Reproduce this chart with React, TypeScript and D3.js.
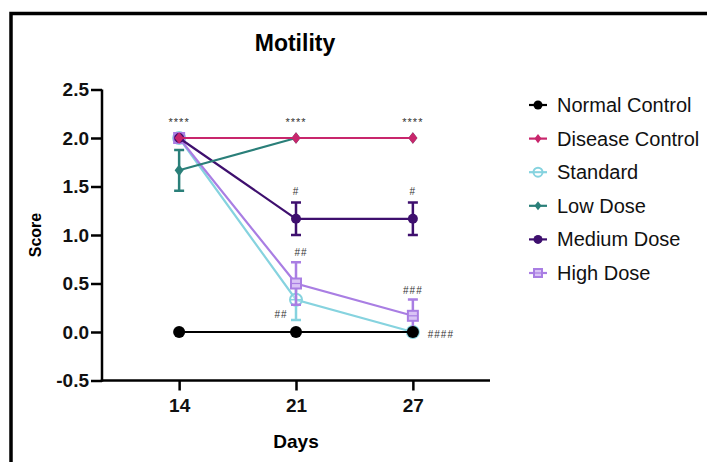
import React, { useEffect, useRef } from "react";
import * as d3 from "d3";

const days = ["14", "21", "27"];
const yTicks = [-0.5, 0.0, 0.5, 1.0, 1.5, 2.0, 2.5];

const groups = ["Normal Control", "Disease Control", "Standard", "Low Dose", "Medium Dose", "High Dose"];
const normalControl = [0, 0, 0];
const diseaseControl = [2, 2, 2];
const standard = [2, 0.333, 0];
const lowDose = [1.667, 2, 2];
const mediumDose = [2, 1.167, 1.167];
const highDose = [2, 0.5, 0.167];

const standardErr = [0, 0.21, 0];
const lowDoseErr = [0.21, 0, 0];
const mediumDoseErr = [0, 0.167, 0.167];
const highDoseErr = [0, 0.22, 0.167];

// significance marks: [day, value the mark sits near, text, dx, dy]
const marks: [string, number, string, number, number][] = [
  ["14", 2, "****", 0, -16],
  ["21", 2, "****", 0, -16],
  ["27", 2, "****", 0, -16],
  ["21", 1.333, "#", 0, -12],
  ["27", 1.333, "#", 0, -12],
  ["21", 0.72, "##", 5, -10],
  ["21", 0.333, "##", -15, 14],
  ["27", 0.334, "###", 0, -10],
  ["27", 0, "####", 28, 2],
];

const App = () => {
  const ref = useRef<SVGSVGElement>(null);

  useEffect(() => {
    const svg = d3.select(ref.current);
    svg.selectAll("*").remove();

    const width = 707, height = 462;
    const font = "'Liberation Sans', Arial, sans-serif";

    const x = d3.scalePoint().domain(days).range([102, 490]).padding(0.66);
    const y = d3.scaleLinear().domain([-0.5, 2.5]).range([380.5, 89.5]);

    svg.append("rect").attr("width", width).attr("height", height).attr("fill", "#fff");

    // frame (only top and left edges show)
    svg.append("path")
      .attr("d", "M11,462 V13.5 H707")
      .attr("fill", "none")
      .attr("stroke", "#000")
      .attr("stroke-width", 3.5);

    svg.append("text")
      .attr("x", 295).attr("y", 51)
      .attr("text-anchor", "middle")
      .attr("font-family", font).attr("font-weight", "bold").attr("font-size", 23)
      .text("Motility");

    // axes
    const yAxis = svg.append("g").attr("transform", "translate(102,0)")
      .call(d3.axisLeft(y).tickValues(yTicks).tickFormat(d => (+d).toFixed(1)).tickSize(11).tickPadding(2));
    const xAxis = svg.append("g").attr("transform", `translate(0,${y(-0.5)})`)
      .call(d3.axisBottom(x).tickSize(10).tickPadding(8).tickSizeOuter(0));
    [yAxis, xAxis].forEach(a => {
      a.select(".domain").attr("stroke-width", 2.5);
      a.selectAll(".tick line").attr("stroke-width", 2.5);
      a.selectAll("text").attr("font-family", font).attr("font-weight", "bold").attr("font-size", 19).attr("fill", "#111");
    });
    yAxis.select(".domain").attr("d", `M0,${y(2.5)}V${y(-0.5) + 1.2}`);
    xAxis.select(".domain").attr("d", `M100.8,0H490`);

    svg.append("text")
      .attr("transform", `translate(41,${(y(2.5) + y(-0.5)) / 2}) rotate(-90)`)
      .attr("text-anchor", "middle")
      .attr("font-family", font).attr("font-weight", "bold").attr("font-size", 16)
      .text("Score");
    svg.append("text")
      .attr("x", x("21")).attr("y", 448)
      .attr("text-anchor", "middle")
      .attr("font-family", font).attr("font-weight", "bold").attr("font-size", 19)
      .text("Days");

    const series = [
      { name: groups[0], values: normalControl, err: [0, 0, 0], color: "#000000", shape: "circle", open: false, r: 6 },
      { name: groups[1], values: diseaseControl, err: [0, 0, 0], color: "#c8266c", shape: "diamond", open: false, r: 4.5 },
      { name: groups[2], values: standard, err: standardErr, color: "#86d3df", shape: "circle", open: true, r: 6 },
      { name: groups[3], values: lowDose, err: lowDoseErr, color: "#2a7f79", shape: "diamond", open: false, r: 4.5 },
      { name: groups[4], values: mediumDose, err: mediumDoseErr, color: "#3e0f6e", shape: "circle", open: false, r: 5 },
      { name: groups[5], values: highDose, err: highDoseErr, color: "#a97ee3", shape: "square", open: true, r: 5 },
    ];
    // drawing order: pale groups first, controls on top
    const drawOrder = [2, 5, 4, 3, 1, 0];

    const line = d3.line<number>().x((_, i) => x(days[i])!).y(d => y(d));

    const drawMarker = (g: any, s: any, cx: number, cy: number) => {
      if (s.shape === "circle") {
        g.append("circle").attr("cx", cx).attr("cy", cy).attr("r", s.r)
          .attr("fill", s.open ? "rgba(255,255,255,0.3)" : s.color)
          .attr("stroke", s.color).attr("stroke-width", s.open ? 2 : 0);
        if (s.open) {
          g.append("line").attr("x1", cx - s.r).attr("x2", cx + s.r).attr("y1", cy).attr("y2", cy)
            .attr("stroke", s.color).attr("stroke-width", 1.5);
        }
      } else if (s.shape === "square") {
        g.append("rect").attr("x", cx - s.r).attr("y", cy - s.r).attr("width", s.r * 2).attr("height", s.r * 2)
          .attr("fill", "#d9c4f5").attr("stroke", s.color).attr("stroke-width", 2);
        g.append("line").attr("x1", cx - s.r).attr("x2", cx + s.r).attr("y1", cy).attr("y2", cy)
          .attr("stroke", s.color).attr("stroke-width", 1.2);
      } else {
        g.append("path").attr("d", `M${cx},${cy - s.r * 1.3}L${cx + s.r},${cy}L${cx},${cy + s.r * 1.3}L${cx - s.r},${cy}Z`)
          .attr("fill", s.color);
      }
    };

    drawOrder.forEach(si => {
      const s = series[si];
      const g = svg.append("g");
      g.append("path").datum(s.values).attr("d", line)
        .attr("fill", "none").attr("stroke", s.color).attr("stroke-width", 2.2);
      s.values.forEach((v, i) => {
        const e = s.err[i];
        if (!e) return;
        const cx = x(days[i])!;
        g.append("path")
          .attr("d", `M${cx},${y(v - e)}V${y(v + e)}M${cx - 5},${y(v + e)}H${cx + 5}M${cx - 5},${y(v - e)}H${cx + 5}`)
          .attr("fill", "none").attr("stroke", s.color).attr("stroke-width", 2.5);
      });
      s.values.forEach((v, i) => drawMarker(g, s, x(days[i])!, y(v)));
    });

    // significance marks
    marks.forEach(([d, v, t, dx, dy]) => {
      svg.append("text")
        .attr("x", x(d)! + dx).attr("y", y(v) + dy + 4)
        .attr("text-anchor", "middle")
        .attr("font-family", font).attr("font-size", t.startsWith("*") ? 11 : 10)
        .attr("letter-spacing", 1)
        .attr("fill", "#333")
        .text(t);
    });

    // legend
    series.forEach((s, k) => {
      const ly = 105 + k * 33.6;
      const g = svg.append("g");
      g.append("line").attr("x1", 529).attr("x2", 547).attr("y1", ly).attr("y2", ly)
        .attr("stroke", s.color).attr("stroke-width", 2.2);
      drawMarker(g, { ...s, r: s.shape === "square" ? 4 : s.shape === "diamond" ? 3.5 : 4.5 }, 538, ly);
      g.append("text").attr("x", 557).attr("y", ly + 7)
        .attr("font-family", font).attr("font-size", 20).attr("fill", "#111")
        .text(s.name);
    });
  }, []);

  return (
    <svg ref={ref} width={707} height={462}
      style={{ position: "absolute", left: 0, top: 0, display: "block" }} />
  );
};

export default App;
